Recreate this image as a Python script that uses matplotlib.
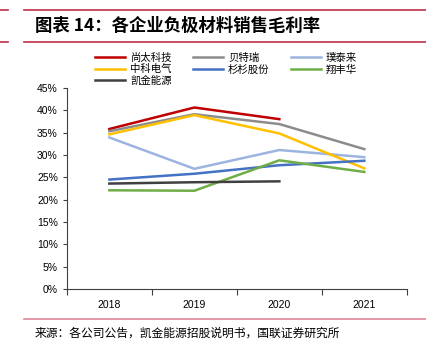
import matplotlib.pyplot as plt
from matplotlib.lines import Line2D
from matplotlib.ticker import FixedLocator, PercentFormatter

plt.rcParams['font.family'] = ['Liberation Sans', 'Noto Sans CJK SC', 'DejaVu Sans']

years = ['2018', '2019', '2020', '2021']
names = ['尚太科技', '贝特瑞', '璞泰来', '中科电气', '杉杉股份', '翔丰华', '凯金能源']
shangtai = [35.8, 40.6, 38.0]
btr = [35.3, 39.1, 36.9, 31.3]
putailai = [33.9, 26.9, 31.1, 29.5]
zhongke = [34.6, 38.9, 34.8, 27.0]
shanshan = [24.5, 25.8, 27.7, 28.7]
xiangfenghua = [22.1, 22.0, 28.8, 26.2]
kaijin = [23.6, 23.9, 24.1]
series = [shangtai, btr, putailai, zhongke, shanshan, xiangfenghua, kaijin]
colors = ['#c00000', '#8c8c8c', '#9db4e0', '#ffc000', '#4472c4', '#70ad47', '#404040']

fig = plt.figure(figsize=(4.26, 3.57), dpi=100)
ax = fig.add_axes([0.157, 0.19, 0.798, 0.564])

for vals, c in zip(series, colors):
    ax.plot(range(len(vals)), vals, color=c, linewidth=1.8)

ax.set_xlim(-0.5, 3.5)
ax.set_ylim(0, 45)
ax.set_yticks(range(0, 46, 5))
ax.yaxis.set_major_formatter(PercentFormatter(decimals=0))
ax.xaxis.set_major_locator(FixedLocator([-0.5, 0.5, 1.5, 2.5, 3.5]))
ax.xaxis.set_minor_locator(FixedLocator([0, 1, 2, 3]))
ax.set_xticklabels([], minor=False)
ax.set_xticklabels(years, minor=True)
ax.tick_params(axis='x', which='major', length=4, color='#404040')
ax.tick_params(axis='x', which='minor', length=0, pad=8, labelsize=7.5)
ax.tick_params(axis='y', length=3, labelsize=7.5, color='#404040')
for s in ['top', 'right']:
    ax.spines[s].set_visible(False)
for s in ['left', 'bottom']:
    ax.spines[s].set_color('#404040')

# legend is filled column by column, reorder so rows read like the original
order = [0, 3, 6, 1, 4, 2, 5]
handles = [Line2D([], [], color=colors[i], linewidth=1.8) for i in order]
labels = [names[i] for i in order]
fig.legend(handles, labels, ncol=3, loc='upper left', bbox_to_anchor=(95 / 426, 1 - 53 / 357),
           frameon=False, handlelength=2.9, handletextpad=0.5, borderpad=0, borderaxespad=0,
           columnspacing=2.0, labelspacing=0.12,
           prop={'family': ['Noto Sans CJK SC'], 'size': 7.5})

red = '#c0304a'
fig.add_artist(Line2D([24 / 426, 1], [1 - 10 / 357] * 2, color=red, linewidth=1.2))
fig.add_artist(Line2D([24 / 426, 1], [1 - 42 / 357] * 2, color=red, linewidth=1.2))
fig.add_artist(Line2D([0, 8 / 426], [1 - 10 / 357] * 2, color=red, linewidth=1.2))
fig.add_artist(Line2D([0, 8 / 426], [1 - 42 / 357] * 2, color=red, linewidth=1.2))
fig.add_artist(Line2D([24 / 426, 1], [1 - 319 / 357] * 2, color='#e08898', linewidth=1.2))
fig.text(35 / 426, 1 - 26 / 357, '图表 14：各企业负极材料销售毛利率', fontsize=12.5, fontweight='bold',
         style='italic', va='center', ha='left', family=['Noto Sans CJK SC'])
fig.text(35 / 426, 1 - 333 / 357, '来源：各公司公告，凯金能源招股说明书，国联证券研究所', fontsize=8.5,
         va='center', ha='left', family=['Noto Sans CJK SC'])

fig.savefig('out.png', dpi=100)
